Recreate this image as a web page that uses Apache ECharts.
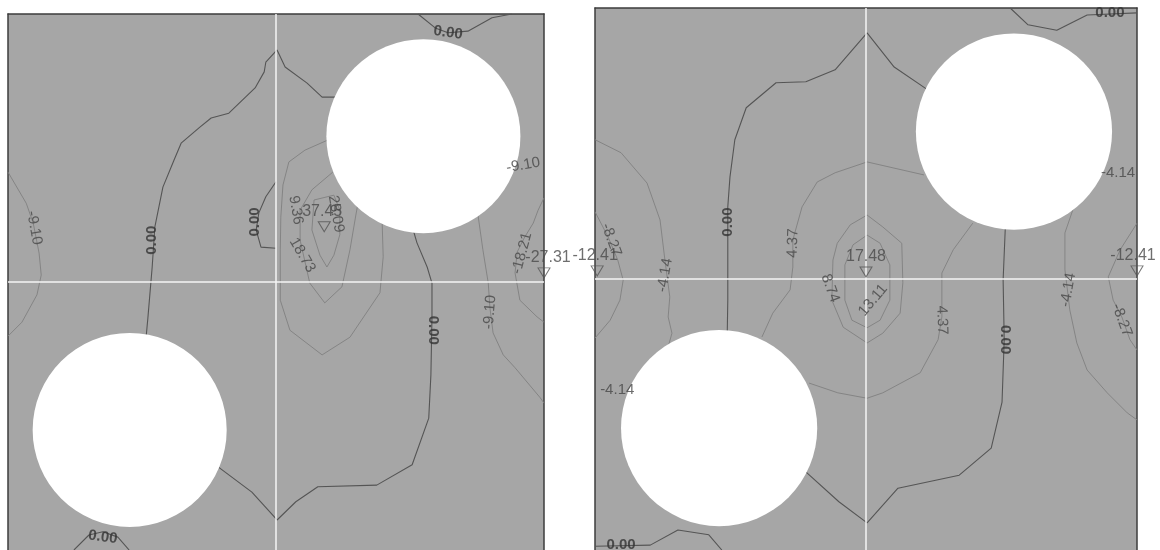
<!DOCTYPE html>
<html>
<head>
<meta charset="utf-8">
<script src="https://cdn.jsdelivr.net/npm/echarts@6/dist/echarts.min.js"></script>
<style>html,body{margin:0;padding:0;background:#fff}#c{width:1160px;height:550px}</style>
</head>
<body>
<div id="c"></div>
<script>
// ---- panel geometry in data units (each panel 0..100 in both directions) ----
const centerLine = [50];
const circlesL = [[77.5, 77.2, 18.1], [22.7, 22.4, 18.1]];
const circlesR = [[77.3, 77.2, 18.1], [22.9, 22.5, 18.1]];

// ---- left panel contours ----
const zeroL_top = [[61.6,84.5],[58.6,84.5],[55.8,87.1],[51.7,90.1],[50.2,93.3],[48.1,91.0],[47.8,89.2],[46.1,86.2],[41.2,81.5],[37.9,80.6],[35.8,78.9],[32.3,75.9],[31.0,72.8],[28.9,67.7],[27.4,60.3],[26.9,52.8],[26.1,43.3],[25.8,40.1]];
const zeroL_bot = [[75.6,59.7],[76.3,57.3],[78.2,52.8],[79.1,49.8],[79.1,43.5],[78.9,32.7],[78.5,24.6],[75.4,15.9],[68.8,12.1],[57.8,11.8],[53.7,9.0],[50.2,5.6],[45.5,10.8],[39.2,15.5]];
const zeroL_topU = [[76.5,100],[79.7,97.4],[82.1,96.5],[85.8,96.8],[90.3,99.3],[94.0,100]];
const zeroL_botU = [[12.3,0],[15.1,2.8],[17.7,3.4],[20.5,2.4],[22.6,0]];
const zeroL_bump = [[50.0,68.7],[48.1,65.9],[46.8,62.9],[46.3,59.7],[47.2,56.5],[50.0,56.3]];
const m910L_left = [[0,70.5],[3.4,64.7],[4.7,61.0],[5.8,55.4],[6.2,51.3],[5.4,47.6],[2.6,42.5],[0,39.9]];
const m910L_right = [[87.5,63.8],[88.6,56.0],[89.6,49.8],[89.9,45.3],[90.5,40.5],[92.4,36.4],[94.6,34.0],[99.3,28.4],[100,27.4]];
const m1821L = [[100,65.7],[98.9,63.4],[98.0,61.0],[96.3,58.2],[95.0,55.6],[94.6,51.7],[95.5,46.6],[98.7,43.5],[100,42.5]];
const p936L = [[59.7,76.5],[55.4,74.6],[52.4,72.4],[51.3,68.1],[50.9,62.1],[50.8,56.0],[50.8,46.6],[52.6,41.0],[58.6,36.4],[63.8,39.7],[69.4,48.0],[70.0,54.7],[69.8,61.2]];
const p1873L = [[60.6,70.5],[56.7,67.2],[54.5,63.4],[54.5,57.8],[56.3,49.8],[59.1,46.1],[62.3,49.1],[63.8,56.0],[64.9,62.5],[65.3,64.7]];
const p2809L = [[57.1,65.3],[56.7,59.7],[58.2,55.0],[59.5,52.8],[60.8,55.0],[61.9,58.8],[61.9,63.4],[60.8,66.2],[57.1,65.3]];

// ---- right panel contours ----
const zeroR_top = [[61.4,84.9],[55.2,89.1],[50.2,95.4],[44.3,88.6],[38.9,86.4],[33.4,86.2],[27.9,81.6],[25.8,75.7],[24.9,68.8],[24.5,63.3],[24.5,52.2],[24.5,46.1],[24.4,40.0]];
const zeroR_bot = [[75.7,59.4],[75.3,49.8],[75.5,38.8],[75.1,27.3],[73.1,18.8],[67.2,13.8],[55.9,11.4],[50.2,5.0],[45.0,8.9],[38.9,14.4]];
const zeroR_topU = [[76.6,100],[79.9,96.9],[85.2,95.9],[90.8,98.7],[100,99.1]];
const zeroR_botU = [[0,0.7],[10.2,0.9],[15.3,3.7],[21.0,2.8],[23.4,0]];
const p437R_a = [[60.7,69.2],[50.2,71.6],[44.3,69.6],[41.0,67.9],[38.2,63.3],[36.5,57.2],[36.5,52.2],[36.0,48.0],[32.8,43.7],[30.8,39.3]];
const p437R_b = [[69.7,60.3],[66.1,55.4],[64.0,51.1],[64.0,43.0],[63.3,38.8],[60.0,32.7],[53.1,29.0],[50.2,28.0],[44.8,29.0],[39.5,30.8]];
const p874R = [[50.2,61.8],[53.1,59.6],[56.6,56.6],[56.8,49.3],[56.3,43.7],[53.1,40.0],[50.2,38.2],[45.8,41.1],[43.7,46.1],[43.9,53.5],[44.7,56.6],[47.1,60.0],[50.2,61.8]];
const p1311R = [[50.2,58.1],[52.6,56.6],[54.4,52.6],[54.4,46.1],[52.6,42.4],[50.2,41.0],[47.4,42.4],[46.1,46.1],[46.1,52.6],[47.6,56.3],[50.2,58.1]];
const m414R_a = [[0,75.7],[4.8,73.3],[9.6,67.7],[12.0,60.9],[12.9,53.5],[13.8,46.7],[13.5,43.0],[14.2,40.0],[13.5,37.5]];
const m414R_b = [[88.8,64.6],[86.7,58.5],[86.7,51.7],[87.1,48.5],[87.6,44.3],[88.9,38.2],[90.8,33.2],[94.5,29.0],[98.2,25.3],[100,24.0]];
const m827R_a = [[0,62.4],[2.4,57.8],[4.2,53.5],[5.2,49.8],[4.6,46.1],[2.8,42.4],[0,39.1]];
const m827R_b = [[100,60.3],[96.9,55.4],[94.7,50.4],[95.6,46.1],[97.2,43.0],[98.7,38.8],[100,36.9]];

// ---- contour labels ----
const labelTextL = ["0.00","0.00","0.00","0.00","0.00","-9.10","-9.10","-9.10","9.36","28.09","18.73","-18.21"];
const labelPosL = [[26.9,57.8],[46.1,61.2],[82.1,96.5],[79.3,41.0],[17.7,2.4],[4.9,60.1],[89.9,44.4],[96.1,71.8],[53.7,63.4],[61.2,62.7],[54.9,55.0],[95.9,55.4]];
const labelTextR = ["0.00","0.00","0.00","0.00","4.37","4.37","8.74","13.11","-4.14","-4.14","-4.14","-4.14","-8.27","-8.27"];
const labelPosR = [[24.5,60.5],[75.6,38.8],[95.0,99.1],[4.8,0.9],[36.5,56.6],[64.0,42.4],[43.4,48.3],[51.3,46.1],[12.9,50.7],[87.3,48.0],[4.1,29.5],[96.5,69.6],[3.0,57.2],[97.2,42.4]];

// ---- extreme value markers ----
const extremeTextL = ["37.45","-27.31"];
const extremePosL = [[59.0,60.3],[100,51.7]];
const extremeTextR = ["17.48","-12.41","-12.41"];
const extremePosR = [[50.0,51.3],[0.4,51.5],[100,51.5]];

// ---- styling (not data) ----
const labelRotL = [90,90,-8,-90,-8,-80,85,10,-80,-80,-60,75];
const labelRotR = [90,-90,0,0,88,-88,-70,50,80,80,0,0,-70,-70];
const extremeOffL = [[-2,0],[4,0]];
const extremeOffR = [[0,0],[-2,0],[-4,0]];
const FONT = "Liberation Sans";

const chart = echarts.init(document.getElementById('c'), null, {renderer:'canvas'});

function axisX(gi){
  return {type:'value', gridIndex:gi, min:0, max:100, position:'top',
    axisLine:{show:true, onZero:false, lineStyle:{color:'#3c3c3c', width:1.5}},
    axisTick:{show:false}, axisLabel:{show:false}, splitLine:{show:false}};
}
function axisY(gi, pos){
  return {type:'value', gridIndex:gi, min:0, max:100, position:pos,
    axisLine:{show:true, onZero:false, lineStyle:{color:'#3c3c3c', width:1.5}},
    axisTick:{show:false}, axisLabel:{show:false}, splitLine:{show:false}};
}

const series = [];
function addLine(data, gi, zero){
  series.push({type:'line', xAxisIndex:gi, yAxisIndex:gi*2, data:data, symbol:'none',
    silent:true, animation:false, z:2,
    lineStyle:{color: zero ? '#555555' : '#808080', width: zero ? 1.1 : 0.9}});
}
function addCross(gi){
  const c = centerLine[0];
  [[[c,0],[c,100]], [[0,c],[100,c]]].forEach(d => {
    series.push({type:'line', xAxisIndex:gi, yAxisIndex:gi*2, data:d, symbol:'none',
      silent:true, animation:false, z:3, lineStyle:{color:'#f4f4f4', width:1.5}});
  });
}
function addCircles(circles, gi){
  series.push({type:'custom', xAxisIndex:gi, yAxisIndex:gi*2, data:circles, silent:true, z:4,
    animation:false, encode:{x:0, y:1},
    renderItem:(params, api) => {
      const p = api.coord([api.value(0), api.value(1)]);
      const s = api.size([api.value(2), api.value(2)]);
      return {type:'circle', shape:{cx:p[0], cy:p[1], r:(s[0]+s[1])/2}, style:{fill:'#ffffff'}};
    }});
}
function addLabels(texts, pos, rots, gi){
  series.push({type:'scatter', xAxisIndex:gi, yAxisIndex:gi*2, symbolSize:1, silent:true, clip:false,
    animation:false, z:6, itemStyle:{color:'rgba(0,0,0,0)'},
    data: texts.map((t,i) => ({name:t, value:pos[i], label:{rotate:rots[i],
      color: t === '0.00' ? '#333333' : '#474747', fontWeight: t === '0.00' ? 'bold' : 'normal'}})),
    label:{show:true, position:'inside', formatter:'{b}', fontFamily:FONT, fontSize:15, textBorderWidth:0}});
}
function addExtremes(texts, pos, offs, gi){
  series.push({type:'scatter', xAxisIndex:gi, yAxisIndex:gi*2, symbol:'triangle', symbolRotate:180,
    symbolSize:[12,10], silent:true, clip:false, animation:false, z:6,
    itemStyle:{color:'rgba(0,0,0,0)', borderColor:'#555', borderWidth:1},
    data: texts.map((t,i) => ({name:t, value:pos[i], label:{offset:offs[i]}})),
    label:{show:true, position:'top', distance:2, formatter:'{b}', fontFamily:FONT, fontSize:16,
      color:'#4a4a4a', textBorderWidth:0}});
}

// left panel
[zeroL_top, zeroL_bot, zeroL_topU, zeroL_botU, zeroL_bump].forEach(d => addLine(d, 0, true));
[m910L_left, m910L_right, m1821L, p936L, p1873L, p2809L].forEach(d => addLine(d, 0, false));
addCross(0);
addCircles(circlesL, 0);
addLabels(labelTextL, labelPosL, labelRotL, 0);
addExtremes(extremeTextL, extremePosL, extremeOffL, 0);

// right panel
[zeroR_top, zeroR_bot, zeroR_topU, zeroR_botU].forEach(d => addLine(d, 1, true));
[p437R_a, p437R_b, p874R, p1311R, m414R_a, m414R_b, m827R_a, m827R_b].forEach(d => addLine(d, 1, false));
addCross(1);
addCircles(circlesR, 1);
addLabels(labelTextR, labelPosR, labelRotR, 1);
addExtremes(extremeTextR, extremePosR, extremeOffR, 1);

chart.setOption({
  animation:false,
  backgroundColor:'#ffffff',
  grid:[
    {left:8, top:14, width:536, height:536, show:true, backgroundColor:'#a6a6a6', borderWidth:0},
    {left:595, top:8, width:542, height:542, show:true, backgroundColor:'#a6a6a6', borderWidth:0}
  ],
  xAxis:[axisX(0), axisX(1)],
  yAxis:[axisY(0,'left'), axisY(0,'right'), axisY(1,'left'), axisY(1,'right')],
  series: series
});
</script>
</body>
</html>
